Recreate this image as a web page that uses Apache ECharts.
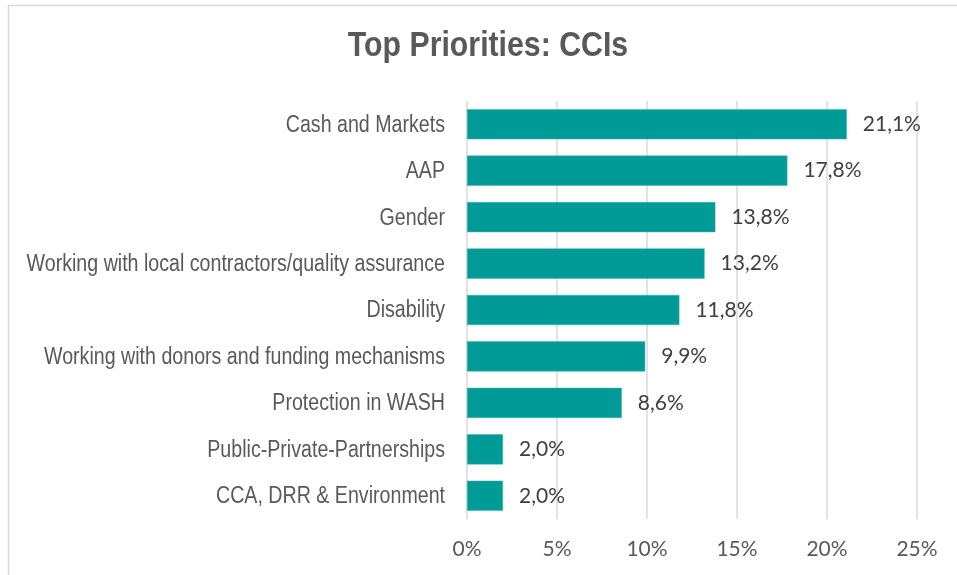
<!DOCTYPE html>
<html>
<head>
<meta charset="utf-8">
<script src="https://cdn.jsdelivr.net/npm/echarts@6/dist/echarts.min.js"></script>
<style>
  html, body { margin: 0; padding: 0; background: #ffffff; }
  #chart { width: 957px; height: 575px; }
</style>
</head>
<body>
<div id="chart"></div>
<script>
// Cross-cutting issues ranked by share of responses
const categories = [
  'Cash and Markets',
  'AAP',
  'Gender',
  'Working with local contractors/quality assurance',
  'Disability',
  'Working with donors and funding mechanisms',
  'Protection in WASH',
  'Public-Private-Partnerships',
  'CCA, DRR & Environment'
];
const shares = [21.1, 17.8, 13.8, 13.2, 11.8, 9.9, 8.6, 2.0, 2.0];
const tickValues = [0, 5, 10, 15, 20, 25];
const titleText = 'Top Priorities: CCIs';

// No narrow face is installed, so the narrow labels are drawn by squeezing a regular sans
const sans = "'Liberation Sans', Arial, sans-serif";
const numFont = "Lato, 'Open Sans', sans-serif";
const labelGrey = '#595959';

const chart = echarts.init(document.getElementById('chart'), null, { renderer: 'canvas' });
chart.setOption({
  backgroundColor: '#ffffff',
  animation: false,
  grid: { left: 467, right: 40, top: 101, bottom: 56, containLabel: false },
  xAxis: {
    type: 'value',
    min: tickValues[0],
    max: tickValues[tickValues.length - 1],
    interval: tickValues[1] - tickValues[0],
    axisLine: { show: false },
    axisTick: { show: false },
    splitLine: { show: true, lineStyle: { color: '#d9d9d9', width: 1.5 } },
    axisLabel: {
      margin: 20,
      formatter: v => v + '%',
      fontFamily: numFont, fontSize: 21, color: labelGrey
    }
  },
  yAxis: {
    type: 'category',
    inverse: true,
    data: categories,
    axisLine: { show: false },
    axisTick: { show: false },
    axisLabel: { show: false }
  },
  series: [{
    type: 'bar',
    data: shares,
    barCategoryGap: '35%',
    itemStyle: { color: '#009a97', borderColor: '#40b4b1', borderWidth: 0.5 },
    label: {
      show: true,
      position: 'right',
      distance: 16,
      formatter: p => p.value.toFixed(1).replace('.', ',') + '%',
      fontFamily: numFont, fontSize: 21, color: '#404040'
    }
  }]
});

// Category names, placed at the category axis positions
const labelRight = chart.convertToPixel({ xAxisIndex: 0 }, 0) - 22;
const categoryTexts = categories.map(name => ({
  type: 'text',
  silent: true,
  x: labelRight,
  y: chart.convertToPixel({ yAxisIndex: 0 }, name) + 1,
  scaleX: 0.835,
  style: {
    text: name,
    align: 'right',
    verticalAlign: 'middle',
    fontFamily: sans,
    fontSize: 23.5,
    fill: labelGrey
  }
}));

chart.setOption({
  graphic: [
    {
      type: 'rect',
      silent: true,
      shape: { x: 8.5, y: 5.5, width: 960, height: 600 },
      style: { fill: 'none', stroke: '#d9d9d9', lineWidth: 1.5 }
    },
    {
      type: 'text',
      silent: true,
      x: 488,
      y: 46,
      scaleX: 0.865,
      style: {
        text: titleText,
        align: 'center',
        verticalAlign: 'middle',
        fontFamily: sans,
        fontWeight: 'bold',
        fontSize: 35,
        fill: labelGrey
      }
    }
  ].concat(categoryTexts)
});
</script>
</body>
</html>
